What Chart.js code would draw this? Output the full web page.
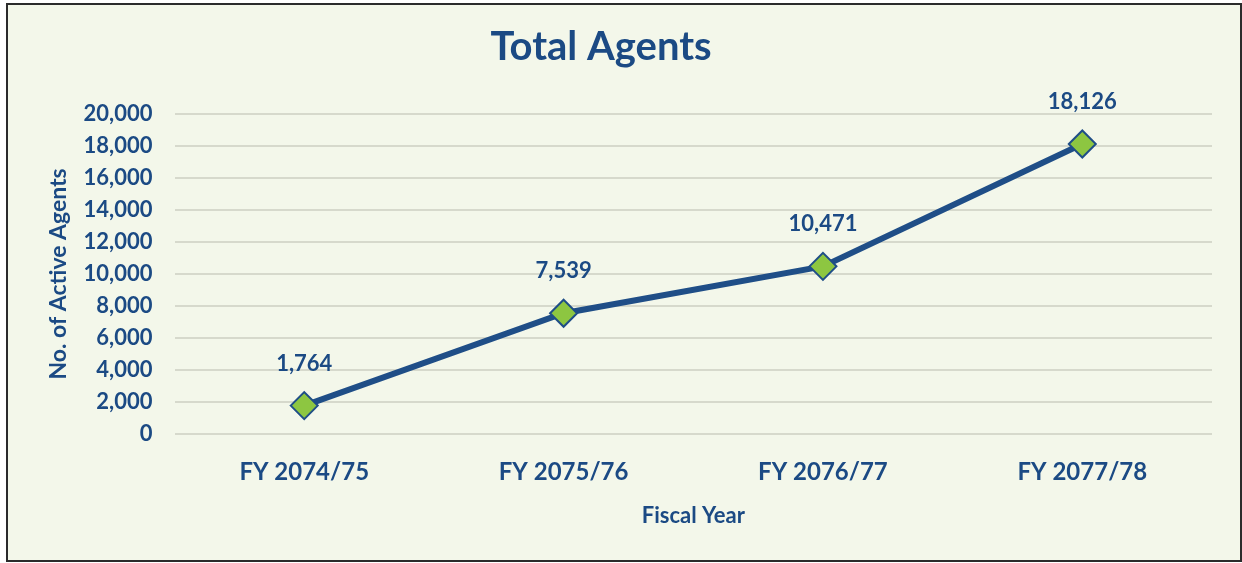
<!DOCTYPE html>
<html><head><meta charset="utf-8">
<script src="https://cdn.jsdelivr.net/npm/chart.js@4/dist/chart.umd.min.js"></script>
<style>
html,body{margin:0;padding:0;background:#fff;}
#frame{position:absolute;left:6px;top:3px;width:1232px;height:555px;border:2px solid #2b2b2b;background:#F3F7EA;}
#wrap{position:absolute;left:0;top:0;width:1242px;height:563px;}
</style></head>
<body>
<div id="frame"></div>
<div id="wrap"><canvas id="c" width="1242" height="563"></canvas></div>
<script>
const categories = ["FY 2074/75","FY 2075/76","FY 2076/77","FY 2077/78"];
const activeAgents = [1764, 7539, 10471, 18126];
const chartTitle = "Total Agents";
const xTitle = "Fiscal Year";
const yTitle = "No. of Active Agents";

const textColor = "#1B4A84";
const FONT = "Lato, 'Open Sans', sans-serif";
const W = "bold";

const titlePlugin = {
  id: 'customTitle',
  afterDraw(chart) {
    const ctx = chart.ctx;
    ctx.save();
    ctx.font = W + " 40px " + FONT;
    ctx.fillStyle = textColor;
    ctx.textAlign = "center";
    ctx.textBaseline = "middle";
    ctx.fillText(chartTitle, 601, 47);
    ctx.restore();
  }
};
const labelPlugin = {
  id: 'dataLabels',
  afterDatasetsDraw(chart) {
    const ctx = chart.ctx;
    const meta = chart.getDatasetMeta(0);
    ctx.save();
    ctx.font = W + " 22px " + FONT;
    ctx.fillStyle = textColor;
    ctx.textAlign = "center";
    ctx.textBaseline = "middle";
    meta.data.forEach((pt, i) => {
      ctx.fillText(activeAgents[i].toLocaleString('en-US'), pt.x, pt.y - 42);
    });
    ctx.restore();
  }
};

new Chart(document.getElementById('c'), {
  type: 'line',
  data: {
    labels: categories,
    datasets: [{
      data: activeAgents,
      borderColor: "#1F4E87",
      borderWidth: 6,
      pointStyle: 'rectRot',
      pointRadius: 13.5,
      pointHoverRadius: 13.5,
      pointBackgroundColor: "#8DC641",
      pointBorderColor: "#1F4E87",
      pointBorderWidth: 2,
      tension: 0
    }]
  },
  options: {
    responsive: false,
    animation: false,
    devicePixelRatio: 1,
    layout: { padding: { top: 114, right: 30, bottom: 34, left: 45 } },
    plugins: { legend: { display: false }, title: { display: false }, tooltip: { enabled: false } },
    scales: {
      x: {
        offset: true,
        grid: { display: false, drawTicks: false },
        border: { display: false },
        ticks: { color: textColor, font: { family: FONT, size: 24, weight: W }, padding: 24 },
        title: { display: true, text: xTitle, color: textColor, font: { family: FONT, size: 22, weight: W }, padding: { top: -8, bottom: 0 } }
      },
      y: {
        min: 0, max: 20000,
        ticks: { stepSize: 2000, color: textColor, font: { family: FONT, size: 22, weight: W }, padding: 22,
                 callback: v => v.toLocaleString('en-US') },
        grid: { color: "#D6D9CC", lineWidth: 2, drawTicks: false },
        border: { display: false },
        title: { display: true, text: yTitle, color: textColor, font: { family: FONT, size: 23, weight: W }, padding: { top: 0, bottom: -11 } }
      }
    }
  },
  plugins: [titlePlugin, labelPlugin]
});
</script>
</body></html>
